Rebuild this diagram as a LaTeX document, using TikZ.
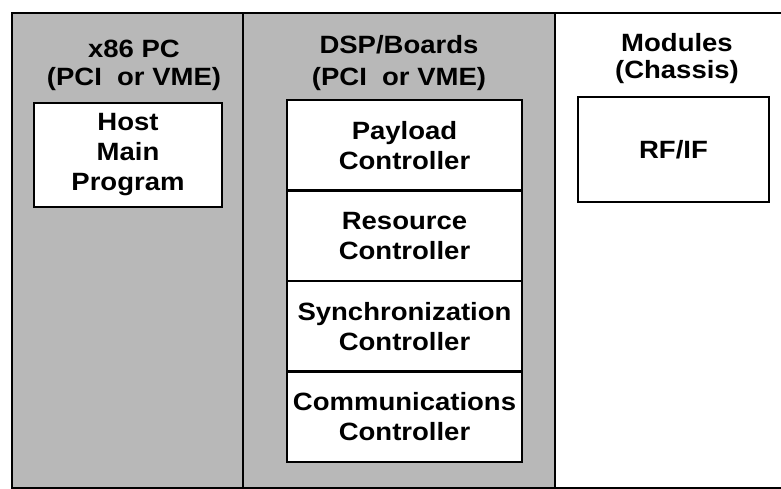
\documentclass[tikz,border=0pt]{standalone}
\usepackage{fontspec}
\setmainfont{Liberation Sans}[FakeStretch=1.1]
\usetikzlibrary{positioning}
\definecolor{dithergray}{gray}{0.72}
\tikzset{
	boxtext/.style={font=\fontsize{25}{30}\selectfont\bfseries, align=center},
	unitbox/.style={boxtext, draw, line width=2.2pt, fill=white, inner sep=0pt, outer sep=0pt},
	headtext/.style={boxtext, anchor=north, inner sep=0pt},
}

\begin{document}
\begin{tikzpicture}[x=1pt, y=-1pt]
	\useasboundingbox (0,0) rectangle (781,489);
	% the three columns
	\fill[dithergray] (12,13) rectangle (555,488);
	\draw[line width=1.4pt] (781,13) -- (12,13) -- (12,488) -- (781,488);
	\draw[line width=1.4pt] (243,13) -- (243,488);
	\draw[line width=1.4pt] (555,13) -- (555,488);
	
	% headings
	\node[headtext] (pchead) at (134,40) {x86 PC\\[-2pt](PCI\ \ or VME)};
	\node[headtext] (dsphead) at (399,35) {DSP/Boards\\[2pt](PCI\ \ or VME)};
	\node[headtext] (modhead) at (677,33) {Modules\\[-3pt](Chassis)};
	
	% host side
	\node[unitbox, minimum width=188pt, minimum height=104pt] (host) at (128,155) {Host\\Main\\Program};
	
	% controller stack
	\node[unitbox, minimum width=235pt, minimum height=90.5pt] (payload) at (404.5,145.25) {Payload\\Controller};
	\node[unitbox, minimum width=235pt, minimum height=90.5pt, below=0pt of payload] (resource) {Resource\\Controller};
	\node[unitbox, minimum width=235pt, minimum height=90.5pt, below=0pt of resource] (sync) {Synchronization\\Controller};
	\node[unitbox, minimum width=235pt, minimum height=90.5pt, below=0pt of sync] (comms) {Communications\\Controller};
	
	% chassis modules
	\node[unitbox, minimum width=191pt, minimum height=105pt] (rfif) at (673.5,149.5) {RF/IF};
\end{tikzpicture}
\end{document}
